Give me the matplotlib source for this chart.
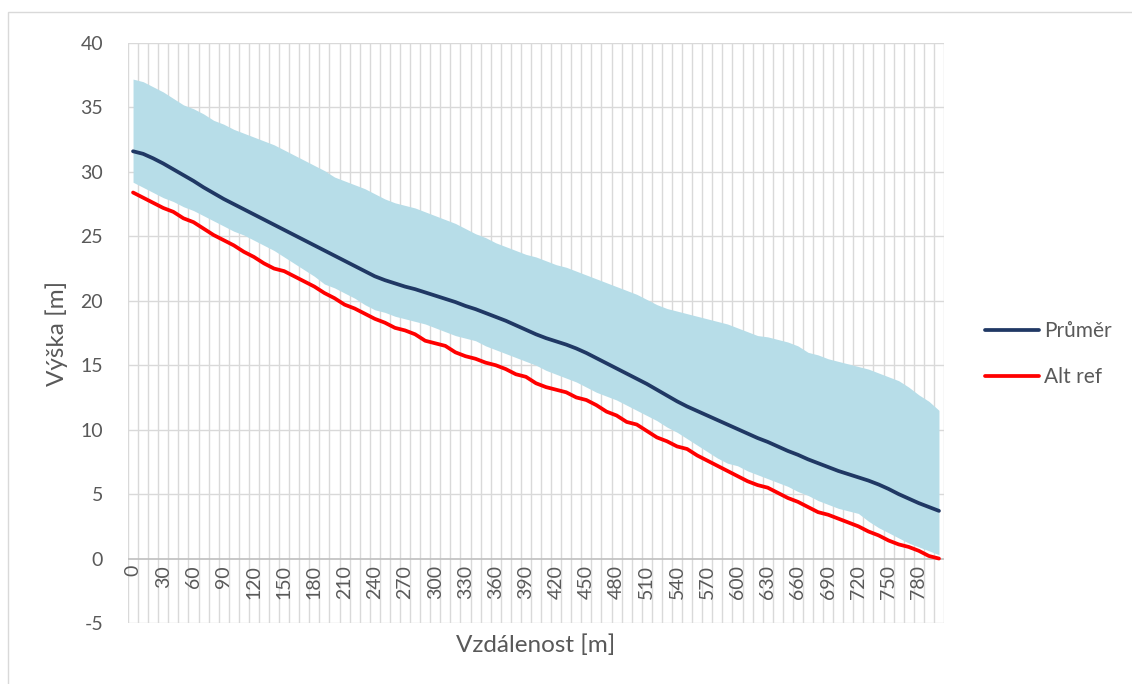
import matplotlib
matplotlib.use("Agg")
import matplotlib.pyplot as plt
from matplotlib.patches import Rectangle

distances = list(range(0, 801, 10))

band_upper = [37.2, 37.0, 36.6, 36.2, 35.7, 35.2, 34.9, 34.5, 34.0, 33.7,
              33.3, 33.0, 32.7, 32.4, 32.1, 31.7, 31.3, 30.9, 30.5, 30.1,
              29.6, 29.3, 29.0, 28.7, 28.3, 27.9, 27.6, 27.4, 27.2, 26.9,
              26.6, 26.3, 26.0, 25.6, 25.2, 24.9, 24.5, 24.2, 23.9, 23.6,
              23.4, 23.1, 22.8, 22.6, 22.3, 22.0, 21.7, 21.4, 21.1, 20.8,
              20.5, 20.1, 19.7, 19.4, 19.2, 19.0, 18.8, 18.6, 18.4, 18.2,
              17.9, 17.6, 17.3, 17.2, 17.0, 16.8, 16.5, 16.0, 15.8, 15.5,
              15.3, 15.1, 14.9, 14.7, 14.4, 14.1, 13.8, 13.3, 12.7, 12.2, 11.5]

band_lower = [29.2, 28.8, 28.4, 28.0, 27.7, 27.3, 27.0, 26.6, 26.2, 25.8,
              25.4, 25.1, 24.7, 24.3, 23.9, 23.4, 22.9, 22.4, 21.9, 21.3,
              21.0, 20.6, 20.2, 19.7, 19.3, 19.1, 18.8, 18.6, 18.4, 18.2,
              17.9, 17.6, 17.3, 17.1, 16.9, 16.5, 16.2, 15.9, 15.6, 15.3,
              15.0, 14.6, 14.3, 14.0, 13.7, 13.3, 12.9, 12.6, 12.3, 11.9,
              11.5, 11.1, 10.7, 10.2, 9.8, 9.3, 8.8, 8.3, 7.8, 7.4,
              7.2, 6.8, 6.5, 6.2, 5.9, 5.6, 5.2, 4.9, 4.5, 4.2,
              3.9, 3.7, 3.5, 2.9, 2.4, 2.0, 1.6, 1.2, 0.9, 0.6, 0.3]

prumer = [31.6, 31.4, 31.05, 30.65, 30.2, 29.75, 29.3, 28.8, 28.35, 27.9,
          27.5, 27.1, 26.7, 26.3, 25.9, 25.5, 25.1, 24.7, 24.3, 23.9,
          23.5, 23.1, 22.7, 22.3, 21.9, 21.6, 21.35, 21.1, 20.9, 20.65,
          20.4, 20.15, 19.9, 19.6, 19.35, 19.05, 18.75, 18.45, 18.1, 17.75,
          17.4, 17.1, 16.85, 16.6, 16.3, 15.95, 15.55, 15.15, 14.75, 14.35,
          13.95, 13.55, 13.1, 12.65, 12.2, 11.8, 11.45, 11.1, 10.75, 10.4,
          10.05, 9.7, 9.35, 9.05, 8.7, 8.35, 8.05, 7.7, 7.4, 7.1,
          6.8, 6.55, 6.3, 6.05, 5.75, 5.4, 5.0, 4.65, 4.3, 4.0, 3.7]

alt_ref = [28.4, 28.0, 27.6, 27.2, 26.9, 26.4, 26.1, 25.6, 25.1, 24.7,
           24.3, 23.8, 23.4, 22.9, 22.5, 22.3, 21.9, 21.5, 21.1, 20.6,
           20.2, 19.7, 19.4, 19.0, 18.6, 18.3, 17.9, 17.7, 17.4, 16.9,
           16.7, 16.5, 16.0, 15.7, 15.5, 15.2, 15.0, 14.7, 14.3, 14.1,
           13.6, 13.3, 13.1, 12.9, 12.5, 12.3, 11.9, 11.4, 11.1, 10.6,
           10.4, 9.9, 9.4, 9.1, 8.7, 8.5, 8.0, 7.6, 7.2, 6.8,
           6.4, 6.0, 5.7, 5.5, 5.1, 4.7, 4.4, 4.0, 3.6, 3.4,
           3.1, 2.8, 2.5, 2.1, 1.8, 1.4, 1.1, 0.9, 0.6, 0.2, 0.0]

y_ticks = [-5, 0, 5, 10, 15, 20, 25, 30, 35, 40]

FONT = ['Lato', 'DejaVu Sans']
TXT = '#595959'
GRID = '#d9d9d9'

plt.rcParams['font.family'] = FONT

fig = plt.figure(figsize=(11.32, 6.84), dpi=100)
W, H = 1132, 684
ax = fig.add_axes([128 / W, 1 - 623 / H, (944 - 128) / W, (623 - 43) / H])

n = len(distances)
idx = list(range(n))

ax.fill_between(idx, band_lower, band_upper, color='#b7dde8', linewidth=0, zorder=2)
ax.plot(idx, prumer, color='#203864', lw=2.7, label='Průměr', zorder=4,
        solid_capstyle='round', solid_joinstyle='round')
ax.plot(idx, alt_ref, color='#ff0000', lw=2.7, label='Alt ref', zorder=4,
        solid_capstyle='round', solid_joinstyle='round')

ax.set_xlim(-0.5, n - 0.5)
ax.set_ylim(-5, 40)

# gridlines
for k in range(n + 1):
    ax.axvline(k - 0.5, color=GRID, lw=1, zorder=1)
for yv in y_ticks:
    ax.axhline(yv, color='#bfbfbf' if yv == 0 else GRID, lw=1.2 if yv == 0 else 1,
               zorder=1 if yv else 3)

for s in ax.spines.values():
    s.set_visible(False)

ax.set_xticks([])
ax.set_yticks(y_ticks)
ax.set_yticklabels([str(v) for v in y_ticks])
ax.tick_params(axis='y', length=0, pad=18, labelsize=14, labelcolor=TXT)

# category labels at axis crossing y=0
for i, d in enumerate(distances):
    if d % 30 == 0:
        ax.text(i, -0.5, str(d), rotation=90, ha='center', va='top',
                fontsize=14, color=TXT, zorder=5)

ax.set_ylabel('Výška [m]', fontsize=17.5, color=TXT, labelpad=9)
fig.text(536 / W, 1 - 645 / H, 'Vzdálenost [m]', ha='center', va='center',
         fontsize=17.5, color=TXT)

leg = fig.legend(loc='center left', bbox_to_anchor=(966 / W, 1 - 354 / H), frameon=False,
                 fontsize=15, handlelength=2.6, labelspacing=1.25, handletextpad=0.25)
for t in leg.get_texts():
    t.set_color(TXT)

fig.patches.append(Rectangle((8 / W, -0.1), 1.2, 1 - 12 / H + 0.1, transform=fig.transFigure,
                             fill=False, edgecolor='#d9d9d9', lw=1))

fig.savefig('out.png', dpi=100)
